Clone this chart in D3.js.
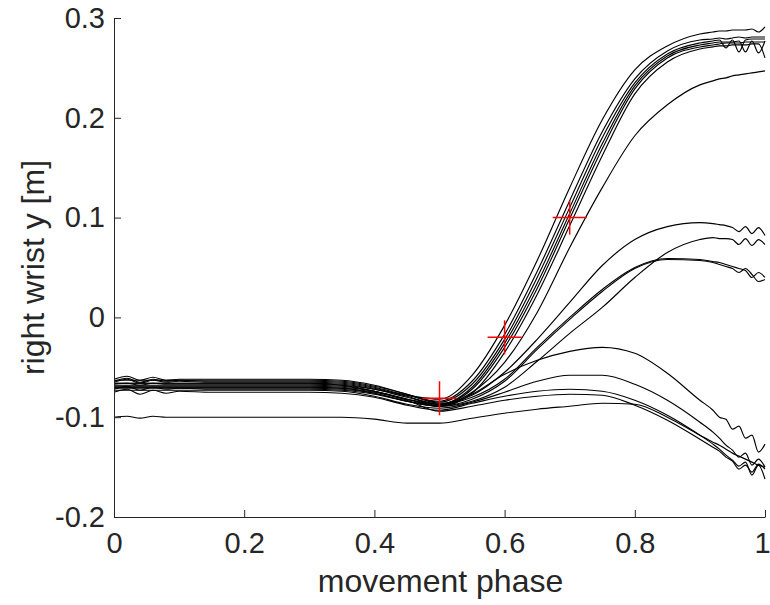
<!DOCTYPE html>
<html>
<head>
<meta charset="utf-8">
<script src="https://cdn.jsdelivr.net/npm/d3@7"></script>
<style>
  html, body { margin: 0; padding: 0; background: #fff; }
  svg { display: block; }
  text { font-family: "Liberation Sans", Arial, Helvetica, sans-serif; fill: #262626; }
</style>
</head>
<body>
<div id="chart"></div>
<script>
// ---- data ----
const phase = [0,0.02,0.04,0.06,0.08,0.1, 0.15,0.2,0.25,0.3,0.35,0.4,0.45,0.5,0.55,0.6,0.65,0.7,0.75,0.8,0.85,0.9, 0.92,0.93,0.94,0.95,0.96,0.97,0.98,0.99,1.0];

const T1 = [-0.067,-0.066,-0.068,-0.066,-0.067,-0.067, -0.067,-0.067,-0.067,-0.067,-0.068,-0.072,-0.078,-0.082,-0.058,-0.008,0.057,0.13,0.198,0.248,0.272,0.284, 0.286,0.287,0.287,0.288,0.288,0.288,0.289,0.286,0.291];
const B1 = [-0.064,-0.061,-0.065,-0.062,-0.064,-0.063, -0.064,-0.064,-0.064,-0.064,-0.065,-0.070,-0.078,-0.084,-0.064,-0.017,0.046,0.117,0.186,0.239,0.267,0.278, 0.279,0.280,0.279,0.280,0.281,0.280,0.281,0.281,0.281];
const B2 = [-0.062,-0.059,-0.063,-0.060,-0.063,-0.062, -0.062,-0.062,-0.062,-0.062,-0.063,-0.068,-0.077,-0.085,-0.067,-0.022,0.040,0.110,0.180,0.235,0.264,0.275, 0.277,0.278,0.270,0.278,0.266,0.278,0.279,0.279,0.279];
const B3 = [-0.070,-0.070,-0.070,-0.070,-0.070,-0.070, -0.070,-0.070,-0.070,-0.070,-0.071,-0.075,-0.082,-0.087,-0.070,-0.026,0.034,0.104,0.174,0.232,0.262,0.273, 0.275,0.276,0.276,0.276,0.277,0.266,0.277,0.265,0.277];
const B4 = [-0.066,-0.066,-0.066,-0.066,-0.066,-0.066, -0.066,-0.066,-0.066,-0.066,-0.067,-0.072,-0.080,-0.087,-0.072,-0.030,0.029,0.099,0.169,0.229,0.260,0.271, 0.273,0.274,0.275,0.275,0.275,0.276,0.276,0.276,0.276];
const B5 = [-0.072,-0.069,-0.073,-0.070,-0.072,-0.071, -0.072,-0.072,-0.072,-0.072,-0.073,-0.077,-0.084,-0.089,-0.076,-0.035,0.023,0.092,0.162,0.224,0.256,0.269, 0.271,0.272,0.272,0.273,0.273,0.273,0.274,0.274,0.260];
const Tlow = [-0.069,-0.069,-0.069,-0.069,-0.069,-0.069, -0.069,-0.069,-0.069,-0.069,-0.070,-0.074,-0.082,-0.088,-0.075,-0.045,0.005,0.070,0.130,0.182,0.213,0.233, 0.237,0.239,0.240,0.242,0.243,0.244,0.245,0.246,0.247];
const M1 = [-0.063,-0.063,-0.063,-0.063,-0.063,-0.063, -0.063,-0.063,-0.063,-0.063,-0.064,-0.069,-0.077,-0.086,-0.078,-0.055,-0.022,0.015,0.052,0.078,0.091,0.095, 0.094,0.093,0.092,0.090,0.086,0.091,0.084,0.090,0.082];
const M2 = [-0.071,-0.071,-0.071,-0.071,-0.071,-0.071, -0.071,-0.071,-0.071,-0.071,-0.072,-0.076,-0.084,-0.089,-0.084,-0.070,-0.044,-0.016,0.010,0.040,0.065,0.078, 0.080,0.079,0.079,0.078,0.073,0.079,0.072,0.078,0.073];
const M3 = [-0.065,-0.062,-0.066,-0.063,-0.065,-0.064, -0.065,-0.065,-0.065,-0.065,-0.066,-0.071,-0.079,-0.087,-0.080,-0.062,-0.030,0.000,0.028,0.050,0.059,0.058, 0.056,0.055,0.053,0.051,0.049,0.047,0.040,0.045,0.040];
const M4 = [-0.068,-0.068,-0.068,-0.068,-0.068,-0.068, -0.068,-0.068,-0.068,-0.068,-0.069,-0.074,-0.082,-0.089,-0.082,-0.064,-0.032,-0.002,0.026,0.049,0.058,0.057, 0.055,0.053,0.051,0.049,0.045,0.049,0.043,0.036,0.038];
const L1 = [-0.070,-0.070,-0.070,-0.070,-0.070,-0.070, -0.070,-0.070,-0.070,-0.070,-0.071,-0.076,-0.084,-0.089,-0.077,-0.057,-0.043,-0.034,-0.030,-0.036,-0.056,-0.083, -0.093,-0.100,-0.102,-0.112,-0.109,-0.121,-0.118,-0.135,-0.127];
const L2 = [-0.073,-0.073,-0.073,-0.073,-0.073,-0.073, -0.073,-0.073,-0.073,-0.073,-0.074,-0.079,-0.087,-0.091,-0.085,-0.075,-0.064,-0.058,-0.058,-0.067,-0.083,-0.105, -0.115,-0.121,-0.128,-0.133,-0.140,-0.136,-0.148,-0.142,-0.150];
const L3 = [-0.075,-0.072,-0.077,-0.073,-0.076,-0.074, -0.075,-0.075,-0.075,-0.075,-0.076,-0.080,-0.088,-0.093,-0.086,-0.079,-0.074,-0.072,-0.074,-0.083,-0.098,-0.118, -0.127,-0.132,-0.138,-0.143,-0.149,-0.145,-0.158,-0.148,-0.162];
const L4 = [-0.066,-0.066,-0.066,-0.066,-0.066,-0.066, -0.066,-0.066,-0.066,-0.066,-0.068,-0.074,-0.083,-0.094,-0.089,-0.083,-0.079,-0.077,-0.078,-0.088,-0.103,-0.122, -0.130,-0.134,-0.140,-0.144,-0.152,-0.148,-0.155,-0.147,-0.152];
const L5 = [-0.100,-0.099,-0.101,-0.099,-0.100,-0.100, -0.100,-0.100,-0.100,-0.100,-0.100,-0.102,-0.106,-0.106,-0.101,-0.096,-0.092,-0.089,-0.086,-0.087,-0.100,-0.118, -0.125,-0.128,-0.132,-0.136,-0.139,-0.142,-0.145,-0.148,-0.150];

const seriesList = [T1, B1, B2, B3, B4, B5, Tlow, M1, M2, M3, M4, L1, L2, L3, L4, L5];

const markX = [0.5, 0.6, 0.7];
const markY = [-0.081, -0.02, 0.1];

const xTicks = [0, 0.2, 0.4, 0.6, 0.8, 1];
const yTicks = [-0.2, -0.1, 0, 0.1, 0.2, 0.3];
const xTickLabels = ["0", "0.2", "0.4", "0.6", "0.8", "1"];
const yTickLabels = ["-0.2", "-0.1", "0", "0.1", "0.2", "0.3"];
const xLabel = "movement phase";
const yLabel = "right wrist y [m]";

// ---- layout ----
const W = 770, H = 605;
const pLeft = 114, pRight = 765, pTop = 18, pBottom = 517;
const axisColor = "#262626";

const svg = d3.select("#chart").append("svg").attr("width", W).attr("height", H);
svg.append("rect").attr("width", W).attr("height", H).attr("fill", "#fff");

const x = d3.scaleLinear().domain([0, 1]).range([pLeft, pRight]);
const y = d3.scaleLinear().domain([-0.2, 0.3]).range([pBottom, pTop]);

// curves
const line = d3.line().x((d, i) => x(phase[i])).y(d => y(d)).curve(d3.curveMonotoneX);
svg.append("g").selectAll("path").data(seriesList).join("path")
  .attr("d", line)
  .attr("fill", "none")
  .attr("stroke", "#000")
  .attr("stroke-width", 1.15)
  .attr("stroke-linejoin", "round");

// markers
const mk = svg.append("g").attr("stroke", "#ff0000").attr("stroke-width", 1.5);
markX.forEach((mx, i) => {
  const cx = x(mx), cy = y(markY[i]), r = 17;
  mk.append("line").attr("x1", cx - r).attr("x2", cx + r).attr("y1", cy).attr("y2", cy);
  mk.append("line").attr("x1", cx).attr("x2", cx).attr("y1", cy - r).attr("y2", cy + r);
});

// axes
const fs = 29, fsLab = 32;
const xAxis = d3.axisBottom(x).tickValues(xTicks).tickSizeInner(-7).tickSizeOuter(0)
  .tickFormat((d, i) => xTickLabels[i]).tickPadding(15);
const gx = svg.append("g").attr("transform", `translate(0,${pBottom})`).call(xAxis);
const yAxis = d3.axisLeft(y).tickValues(yTicks).tickSizeInner(-7).tickSizeOuter(0)
  .tickFormat((d, i) => yTickLabels[i]).tickPadding(9);
const gy = svg.append("g").attr("transform", `translate(${pLeft},0)`).call(yAxis);

[gx, gy].forEach(g => {
  g.select(".domain").attr("stroke", axisColor).attr("stroke-width", 1);
  g.selectAll(".tick line").attr("stroke", axisColor).attr("stroke-width", 1);
  g.selectAll(".tick text").attr("fill", axisColor).style("font-size", fs + "px")
    .style("font-family", '"Liberation Sans", Arial, sans-serif');
});
gx.selectAll(".tick text").attr("dy", "0.71em");
gx.selectAll(".tick").filter(d => d === 1).select("text").attr("x", -3);

svg.append("text").attr("x", (pLeft + pRight) / 2 + 1).attr("y", 592)
  .attr("text-anchor", "middle").style("font-size", fsLab + "px").text(xLabel);
svg.append("text").attr("transform", `translate(44,${(pTop + pBottom) / 2}) rotate(-90)`)
  .attr("text-anchor", "middle").style("font-size", fsLab + "px").text(yLabel);
</script>
</body>
</html>
